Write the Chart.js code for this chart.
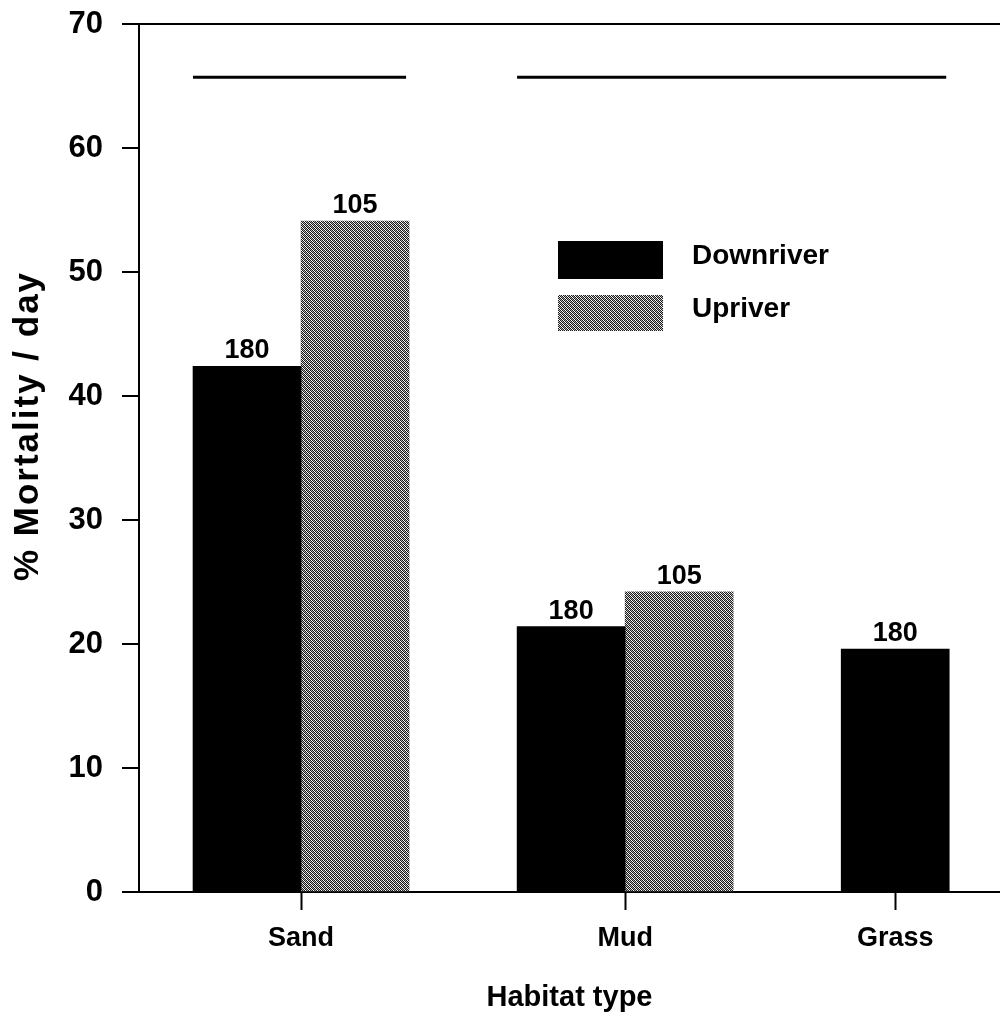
<!DOCTYPE html>
<html>
<head>
<meta charset="utf-8">
<script src="https://cdn.jsdelivr.net/npm/chart.js@4.4.1/dist/chart.umd.min.js"></script>
<style>
  html, body { margin: 0; padding: 0; background: #fff; overflow: hidden; }
</style>
</head>
<body>
<canvas id="myChart" width="1000" height="1021"></canvas>
<script>
const habitats = ["Sand", "Mud", "Grass"];
const downriver = [42.4, 21.4, 19.6];
const upriver = [54.1, 24.2, null];
const downriverN = [180, 180, 180];
const upriverN = [105, 105, null];
const yTicks = [0, 10, 20, 30, 40, 50, 60, 70];
const sigGroups = [["Sand"], ["Mud", "Grass"]];
const sigLevel = 65.7;

const FONT = "'Liberation Sans', Arial, Helvetica, sans-serif";

// each habitat gets 3 slots on the x axis: downriver, upriver, gap
function slot(i, k) {
  return i * 3 + k;
}

// dithered grey like the scanned original
function makePattern() {
  const tile = document.createElement("canvas");
  tile.width = 4;
  tile.height = 4;
  const c = tile.getContext("2d");
  for (let y = 0; y < 4; y++) {
    for (let x = 0; x < 4; x++) {
      if ((x + y) % 2 === 0) c.fillStyle = "#1a1a1a";
      else if ((x - y + 8) % 4 === 1) c.fillStyle = "#b0b0b0";
      else c.fillStyle = "#fff";
      c.fillRect(x, y, 1, 1);
    }
  }
  return document.getElementById("myChart").getContext("2d").createPattern(tile, "repeat");
}

const upPattern = makePattern();

const downData = [];
const downCounts = [];
const upData = [];
const upCounts = [];
const tickPos = [];
habitats.forEach((h, i) => {
  if (downriver[i] !== null) {
    downData.push({ x: slot(i, 0), y: downriver[i], h: h });
    downCounts.push(downriverN[i]);
  }
  if (upriver[i] !== null) {
    upData.push({ x: slot(i, 1), y: upriver[i], h: h });
    upCounts.push(upriverN[i]);
    tickPos.push(slot(i, 0.5));
  } else {
    tickPos.push(slot(i, 0));
  }
});

const valueLabels = {
  id: "valueLabels",
  afterDatasetsDraw(chart) {
    const ctx = chart.ctx;
    ctx.save();
    ctx.fillStyle = "#000";
    ctx.font = "bold 27px " + FONT;
    ctx.textAlign = "center";
    ctx.textBaseline = "alphabetic";
    chart.data.datasets.forEach((ds, i) => {
      chart.getDatasetMeta(i).data.forEach((bar, j) => {
        ctx.fillText(String(ds.counts[j]), bar.x, bar.y - 8);
      });
    });
    ctx.restore();
  },
};

const sigLines = {
  id: "sigLines",
  afterDatasetsDraw(chart) {
    const ctx = chart.ctx;
    const y = chart.scales.y.getPixelForValue(sigLevel);
    ctx.save();
    ctx.strokeStyle = "#000";
    ctx.lineWidth = 3;
    sigGroups.forEach((group) => {
      let left = Infinity;
      let right = -Infinity;
      chart.data.datasets.forEach((ds, i) => {
        chart.getDatasetMeta(i).data.forEach((bar, j) => {
          if (group.includes(ds.data[j].h)) {
            left = Math.min(left, bar.x - bar.width / 2);
            right = Math.max(right, bar.x + bar.width / 2 - 3);
          }
        });
      });
      ctx.beginPath();
      ctx.moveTo(left, y);
      ctx.lineTo(right, y);
      ctx.stroke();
    });
    ctx.restore();
  },
};

const boxLegend = {
  id: "boxLegend",
  afterDraw(chart) {
    const ctx = chart.ctx;
    const area = chart.chartArea;
    const x0 = area.left + 419;
    const tops = [area.top + 217, area.top + 271];
    const heights = [38, 36];
    ctx.save();
    ctx.font = "bold 28px " + FONT;
    ctx.textBaseline = "middle";
    ctx.textAlign = "left";
    chart.data.datasets.forEach((ds, i) => {
      ctx.fillStyle = ds.backgroundColor;
      ctx.fillRect(x0, tops[i], 105, heights[i]);
      ctx.fillStyle = "#000";
      ctx.fillText(ds.label, x0 + 134, tops[i] + heights[i] / 2 - 4);
    });
    ctx.restore();
  },
};

const yTitle = {
  id: "yTitle",
  afterDraw(chart) {
    const ctx = chart.ctx;
    ctx.save();
    ctx.translate(28, 426);
    ctx.rotate(-Math.PI / 2);
    ctx.font = "bold 35px " + FONT;
    ctx.letterSpacing = "2px";
    ctx.fillStyle = "#000";
    ctx.textAlign = "center";
    ctx.textBaseline = "middle";
    ctx.fillText("% Mortality / day", 0, 0);
    ctx.restore();
  },
};

const config = {
  type: "bar",
  data: {
    datasets: [
      {
        label: "Downriver",
        data: downData,
        counts: downCounts,
        backgroundColor: "#000",
        borderWidth: 0,
        grouped: false,
        barPercentage: 1,
        categoryPercentage: 1,
      },
      {
        label: "Upriver",
        data: upData,
        counts: upCounts,
        backgroundColor: upPattern,
        borderWidth: 0,
        grouped: false,
        barPercentage: 1,
        categoryPercentage: 1,
      },
    ],
  },
  options: {
    responsive: false,
    animation: false,
    layout: { padding: { top: 24, right: 0, bottom: 0, left: 0 } },
    plugins: {
      legend: { display: false },
      tooltip: { enabled: false },
    },
    scales: {
      x: {
        type: "linear",
        min: -1,
        max: 6.97,
        offset: false,
        afterFit: (s) => {
          s.height = 129;
          s.paddingLeft = 0;
          s.paddingRight = 0;
        },
        afterBuildTicks: (s) => { s.ticks = tickPos.map((v) => ({ value: v })); },
        ticks: {
          callback: (v, i) => habitats[i],
          color: "#000",
          font: { size: 27, weight: "bold", family: FONT },
          padding: 12,
          maxRotation: 0,
          autoSkip: false,
        },
        grid: { offset: false, drawOnChartArea: false, tickColor: "#000", tickLength: 18, tickWidth: 2 },
        border: { color: "#000", width: 2 },
        title: {
          display: true,
          text: "Habitat type",
          color: "#000",
          font: { size: 29, weight: "bold", family: FONT },
          padding: { top: 0, bottom: 6 },
        },
      },
      y: {
        min: 0,
        max: 70,
        afterFit: (s) => {
          s.width = 139;
          s.paddingTop = 0;
          s.paddingBottom = 0;
        },
        afterBuildTicks: (s) => { s.ticks = yTicks.map((v) => ({ value: v })); },
        ticks: {
          color: "#000",
          font: { size: 31, weight: "bold", family: FONT },
          padding: 19,
        },
        grid: {
          color: (c) => (c.tick && c.tick.value === 70 ? "#000" : "rgba(0,0,0,0)"),
          lineWidth: 2,
          tickColor: "#000",
          tickLength: 17,
          tickWidth: 2,
        },
        border: { color: "#000", width: 2 },
      },
    },
  },
  plugins: [sigLines, valueLabels, boxLegend, yTitle],
};

new Chart(document.getElementById("myChart"), config);
</script>
</body>
</html>
